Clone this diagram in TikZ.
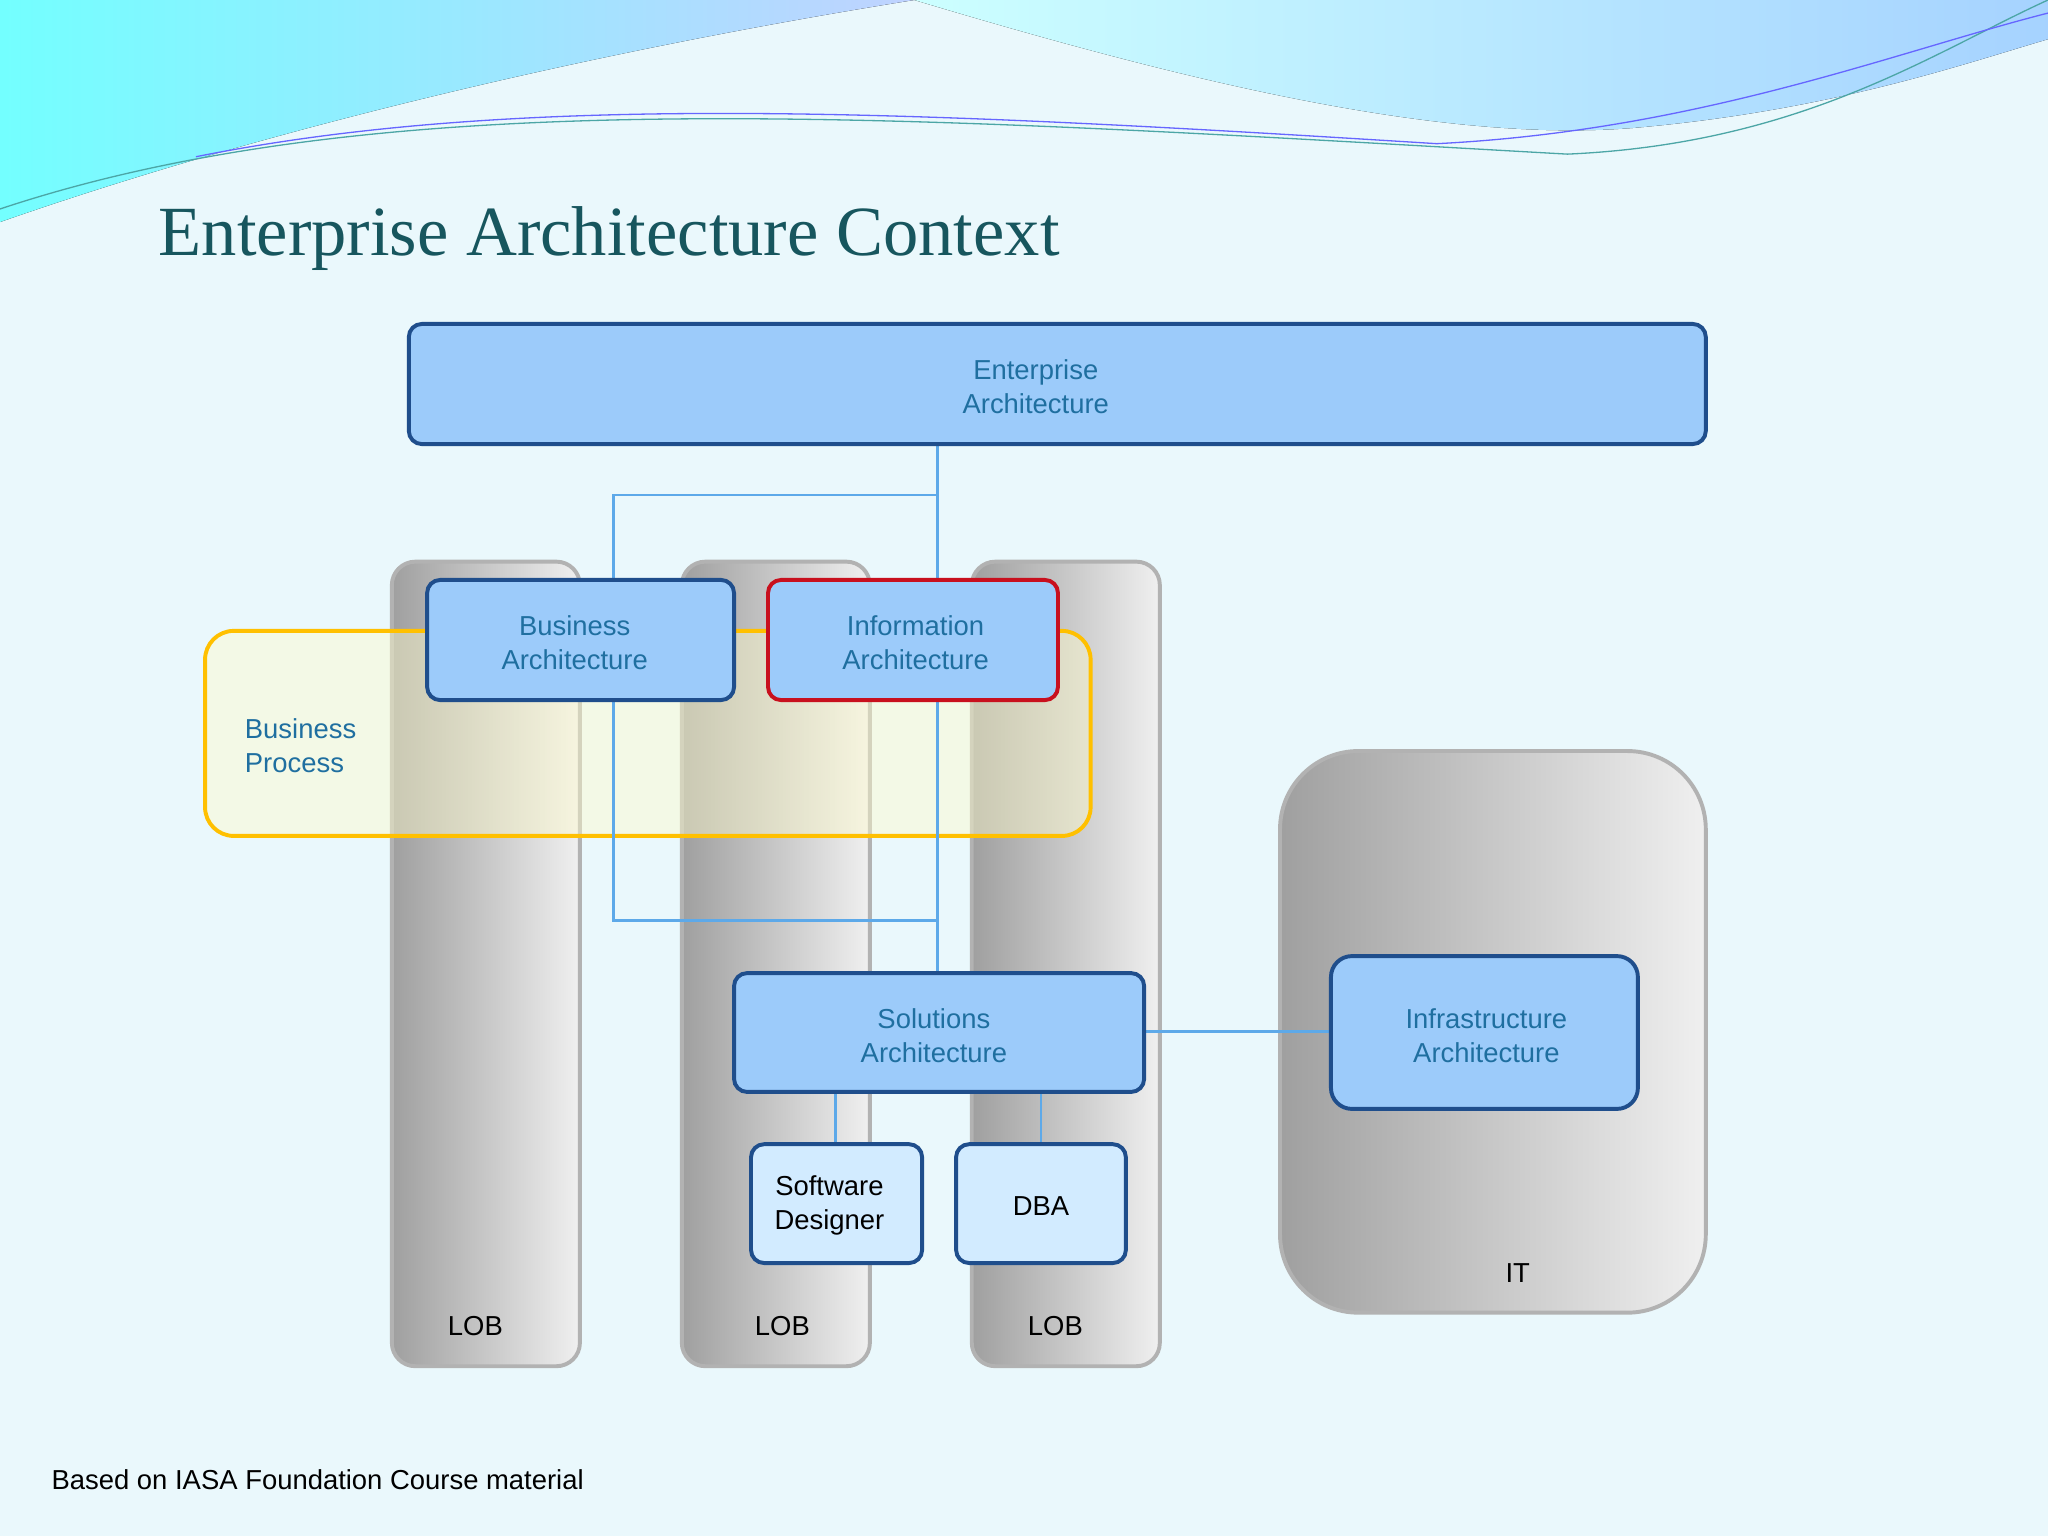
\documentclass[tikz,border=0pt]{standalone}
\usepackage{fontspec}
\setmainfont{Liberation Sans}
\newfontfamily\titlefont{Liberation Serif}
\begin{document}
\begin{tikzpicture}[x=1pt,y=-1pt,
  every node/.style={font=\fontsize{21}{26}\selectfont, align=center, text=arch},
  arch/.style={draw=bord, line width=3pt, fill=boxfill, rounded corners=10pt},
  col/.style={draw=gray!60, line width=3pt, left color=gray!75, right color=gray!12, rounded corners=18pt},
  con/.style={draw=conn, line width=2.2pt},
  lob/.style={text=black}]
\definecolor{bg}{HTML}{EAF8FC}
\definecolor{bord}{HTML}{1F4E8C}
\definecolor{boxfill}{HTML}{9CCBFA}
\definecolor{arch}{HTML}{1F6FA0}
\definecolor{conn}{HTML}{5DA9E9}
\definecolor{titlec}{HTML}{17565E}
\definecolor{subfill}{HTML}{D2EBFF}
\fill[bg] (0,0) rectangle (1568,1176);
\useasboundingbox (0,0) rectangle (1568,1176);
% top waves
\fill[left color=cyan!55, right color=cyan!30!blue!25] (0,0) -- (0,170) .. controls (200,100) and (450,40) .. (700,0) -- cycle;
\fill[left color=cyan!20, right color=cyan!50!blue!35] (700,0) .. controls (900,60) and (1100,110) .. (1250,98) .. controls (1400,85) and (1500,50) .. (1568,30) -- (1568,0) -- cycle;
\draw[teal!70, line width=1pt] (0,160) .. controls (300,60) and (700,90) .. (1200,118) .. controls (1380,110) and (1480,40) .. (1568,0);
\draw[blue!60, line width=1pt] (150,120) .. controls (400,70) and (700,85) .. (1100,110) .. controls (1300,100) and (1450,40) .. (1568,10);
\node[font=\fontsize{54}{60}\selectfont\titlefont, text=titlec, anchor=west] (title) at (118,183) {Enterprise Architecture Context};
% columns
\draw[col] (300,430) rectangle (444,1046);
\draw[col] (522,430) rectangle (666,1046);
\draw[col] (744,430) rectangle (888,1046);
\draw[col, rounded corners=60pt] (980,575) rectangle (1306,1005);
\node[lob] (l1) at (364,1015) {LOB};
\node[lob] (l2) at (599,1015) {LOB};
\node[lob] (l3) at (808,1015) {LOB};
\node[lob] (it) at (1162,975) {IT};
% business process
\draw[draw={rgb,255:red,255;green,192;blue,0}, line width=3pt, fill=yellow!20!white, fill opacity=0.45, rounded corners=22pt] (157,483) rectangle (835,640);
\node[anchor=west, align=left] (bp) at (184,571) {Business\\Process};
% connectors
\coordinate (j1) at (718,379);
\coordinate (j2) at (470,379);
\coordinate (j3) at (470,705);
\coordinate (j4) at (718,705);
\draw[con] (718,340) -- (718,444);
\draw[con] (j1) -- (j2) -- (470,444);
\draw[con] (470,536) -- (j3) -- (j4);
\draw[con] (718,536) -- (718,745);
\draw[con] (876,790) -- (1019,790);
\draw[con] (640,836) -- (640,876);
\draw[con] (797,836) -- (797,876);
% boxes
\draw[arch] (313,248) rectangle (1306,340);
\node (ea) at (793,296) {Enterprise\\Architecture};
\draw[arch] (327,444) rectangle (562,536);
\node (ba) at (440,492) {Business\\Architecture};
\draw[arch, draw={rgb,255:red,200;green,16;blue,30}] (588,444) rectangle (810,536);
\node (ia) at (701,492) {Information\\Architecture};
\draw[arch] (562,745) rectangle (876,836);
\node (sa) at (715,793) {Solutions\\Architecture};
\draw[arch, rounded corners=16pt] (1019,732) rectangle (1254,849);
\node (infa) at (1138,793) {Infrastructure\\Architecture};
\draw[arch, fill=subfill] (575,876) rectangle (706,967);
\node[text=black] (sd) at (635,923) {Software\\Designer};
\draw[arch, fill=subfill] (732,876) rectangle (862,967);
\node[text=black] (dba) at (797,923) {DBA};
\node[text=black, anchor=west] (foot) at (36,1133) {Based on IASA Foundation Course material};
\end{tikzpicture}
\end{document}
